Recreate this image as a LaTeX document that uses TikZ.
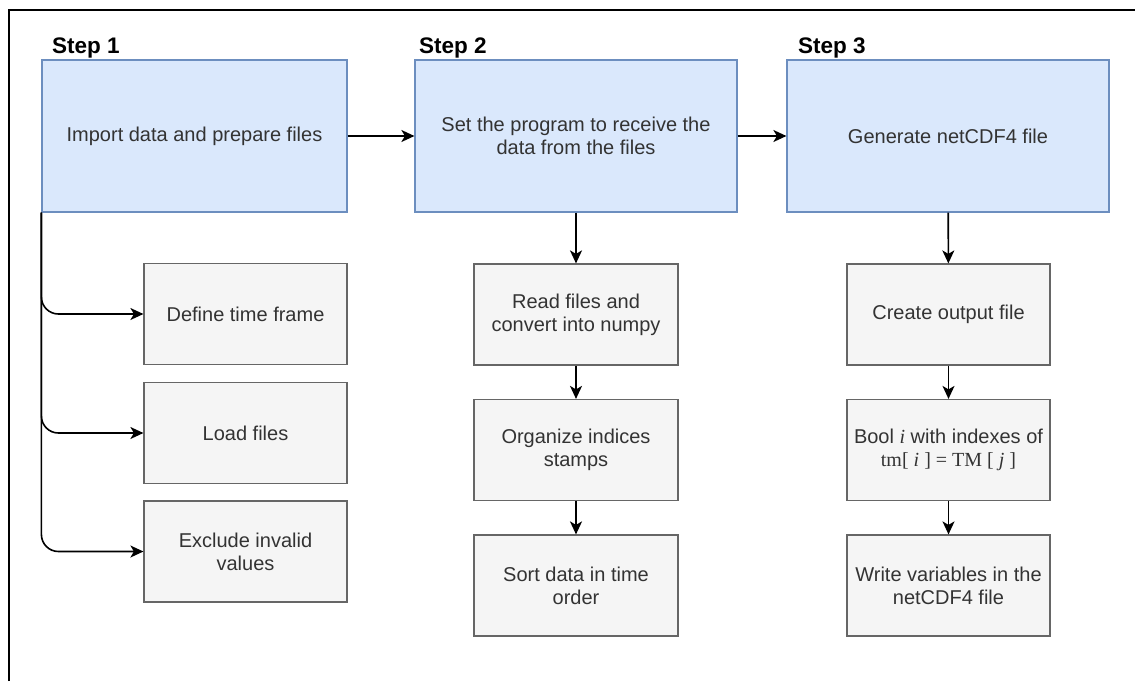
\documentclass[tikz,border=0pt]{standalone}
\usepackage{fontspec}
\setmainfont{Liberation Sans}
\newfontfamily\serifrm{Liberation Serif}
\usetikzlibrary{arrows.meta}
\definecolor{bluefill}{HTML}{DAE8FC}
\definecolor{bluedraw}{HTML}{6C8EBF}
\definecolor{greyfill}{HTML}{F5F5F5}
\definecolor{greydraw}{HTML}{666666}
\definecolor{txtgrey}{HTML}{333333}
\begin{document}
\begin{tikzpicture}[x=1pt,y=-1pt,
  mainbox/.style={draw=bluedraw, fill=bluefill, line width=1.2pt, minimum height=152pt,
    text=txtgrey, font=\fontsize{20}{23}\selectfont, align=center, inner sep=0pt},
  subbox/.style={draw=greydraw, fill=greyfill, line width=1.2pt, minimum width=203pt, minimum height=101pt,
    text=txtgrey, font=\fontsize{20}{23}\selectfont, align=center, inner sep=0pt},
  steplabel/.style={font=\fontsize{22.5}{26}\selectfont\bfseries, anchor=base west, inner sep=0pt},
  conn/.style={line width=1.6pt, -{Stealth[length=13pt,width=12pt,inset=3.5pt]}},
  frameline/.style={line width=1.5pt}
]
\useasboundingbox (0,0) rectangle (1135,681);
\draw[frameline] (9,681) -- (9,10) -- (1135,10);

% step labels
\node[steplabel] (l1) at (52,53) {Step 1};
\node[steplabel] (l2) at (419,53) {Step 2};
\node[steplabel] (l3) at (798,53) {Step 3};

% main boxes
\node[mainbox, minimum width=305pt] (s1) at (194.5,136) {Import data and prepare files};
\node[mainbox, minimum width=322pt] (s2) at (576,136) {Set the program to receive the\\data from the files};
\node[mainbox, minimum width=322pt] (s3) at (948,136) {Generate netCDF4 file};

% step 1 sub-boxes
\node[subbox] (d1) at (245.5,314) {Define time frame};
\node[subbox] (d2) at (245.5,433) {Load files};
\node[subbox] (d3) at (245.5,551.5) {Exclude invalid\\values};

% step 2 sub-boxes
\node[subbox, minimum width=204pt] (r1) at (576,314.5) {Read files and\\convert into numpy};
\node[subbox, minimum width=204pt] (r2) at (576,450) {Organize indices\\stamps};
\node[subbox, minimum width=204pt] (r3) at (576,585.5) {Sort data in time\\order};

% step 3 sub-boxes
\node[subbox] (c1) at (948.5,314.5) {Create output file};
\node[subbox] (c2) at (948.5,450) {Bool {\serifrm\itshape i} with indexes of\\{\serifrm tm[ \textit{i} ] = TM [ \textit{j} ]}};
\node[subbox] (c3) at (948.5,585.5) {Write variables in the\\netCDF4 file};

% connectors
\draw[conn] (s1) -- (s2);
\draw[conn] (s2) -- (s3);
\draw[conn, rounded corners=17pt] (s1.south west) |- (d1.west);
\draw[conn, rounded corners=17pt] (s1.south west) |- (d2.west);
\draw[conn, rounded corners=17pt] (s1.south west) |- (d3.west);
\draw[conn] (s2) -- (r1);
\draw[conn] (r1) -- (r2);
\draw[conn] (r2) -- (r3);
\draw[conn] (s3) -- (c1);
\draw[conn] (c1) -- (c2);
\draw[conn] (c2) -- (c3);
\end{tikzpicture}
\end{document}
